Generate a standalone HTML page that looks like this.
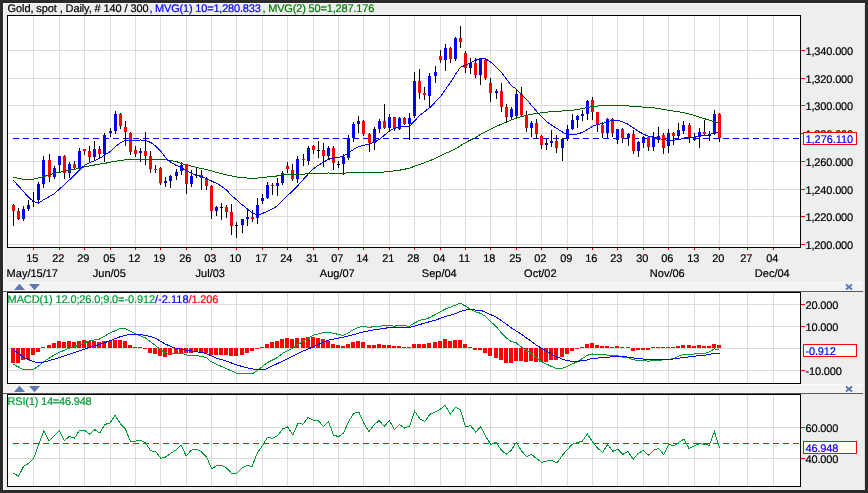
<!DOCTYPE html><html><head><meta charset="utf-8"><title>Gold chart</title><style>html,body{margin:0;padding:0;background:#2b2b2b}svg{display:block;will-change:transform;font-family:"Liberation Sans",sans-serif;font-size:11px}text{stroke-width:0.2px;text-rendering:geometricPrecision}</style></head><body><svg width="868" height="493" viewBox="0 0 868 493" >
<rect x="0" y="0" width="868" height="493" fill="#2b2b2b"/>
<rect x="3" y="3" width="862" height="487" fill="#eeeeee"/>
<rect x="3" y="3" width="862" height="1" fill="#fbfbfb"/><rect x="3" y="3" width="1" height="487" fill="#fbfbfb"/>
<rect x="864" y="4" width="1" height="486" fill="#dcdcdc"/>
<rect x="3" y="282" width="860" height="9" fill="#f3f3f3"/>
<rect x="3" y="282" width="860" height="1" fill="#fafafa"/>
<rect x="3" y="291" width="860" height="1" fill="#5a5a5a"/>
<rect x="3" y="384" width="860" height="9" fill="#f3f3f3"/>
<rect x="3" y="384" width="860" height="1" fill="#fafafa"/>
<rect x="3" y="393" width="860" height="1" fill="#5a5a5a"/>
<rect x="7.5" y="15.5" width="793" height="232" fill="#fff" stroke="#000" stroke-width="1" shape-rendering="crispEdges"/>
<rect x="7.5" y="292.5" width="793" height="91" fill="#fff" stroke="#000" stroke-width="1" shape-rendering="crispEdges"/>
<rect x="7.5" y="394.5" width="793" height="92" fill="#fff" stroke="#000" stroke-width="1" shape-rendering="crispEdges"/>
<path d="M33.5 16V247M59.5 16V247M84.5 16V247M110.5 16V247M135.5 16V247M160.5 16V247M186.5 16V247M211.5 16V247M236.5 16V247M262.5 16V247M287.5 16V247M313.5 16V247M338.5 16V247M363.5 16V247M389.5 16V247M414.5 16V247M440.5 16V247M465.5 16V247M490.5 16V247M516.5 16V247M541.5 16V247M567.5 16V247M592.5 16V247M617.5 16V247M643.5 16V247M668.5 16V247M694.5 16V247M719.5 16V247M747.5 16V247M773.5 16V247M33.5 293V383M59.5 293V383M84.5 293V383M110.5 293V383M135.5 293V383M160.5 293V383M186.5 293V383M211.5 293V383M236.5 293V383M262.5 293V383M287.5 293V383M313.5 293V383M338.5 293V383M363.5 293V383M389.5 293V383M414.5 293V383M440.5 293V383M465.5 293V383M490.5 293V383M516.5 293V383M541.5 293V383M567.5 293V383M592.5 293V383M617.5 293V383M643.5 293V383M668.5 293V383M694.5 293V383M719.5 293V383M747.5 293V383M773.5 293V383M33.5 395V486M59.5 395V486M84.5 395V486M110.5 395V486M135.5 395V486M160.5 395V486M186.5 395V486M211.5 395V486M236.5 395V486M262.5 395V486M287.5 395V486M313.5 395V486M338.5 395V486M363.5 395V486M389.5 395V486M414.5 395V486M440.5 395V486M465.5 395V486M490.5 395V486M516.5 395V486M541.5 395V486M567.5 395V486M592.5 395V486M617.5 395V486M643.5 395V486M668.5 395V486M694.5 395V486M719.5 395V486M747.5 395V486M773.5 395V486M8 50.5H800M8 78.5H800M8 105.5H800M8 133.5H800M8 161.5H800M8 189.5H800M8 216.5H800M8 244.5H800M8 304.5H800M8 326.5H800M8 348.5H800M8 370.5H800M8 427.5H800M8 458.5H800" stroke="#dcdcdc" stroke-width="1" fill="none" shape-rendering="crispEdges"/>
<path d="M13 138.5H800" stroke="#0000ff" stroke-width="1" stroke-dasharray="6 4" shape-rendering="crispEdges"/>
<path d="M13.5 204V226M18.5 208V220M23.5 206V221M28.5 200V211M33.5 192V207M32 201.5H35M38.5 182V203M43.5 156V188M49.5 154V182M54.5 166V179M59.5 156V173M64.5 155V179M69.5 162V178M74.5 161V170M79.5 148V169M84.5 149V155M89.5 146V162M94.5 141V161M99.5 146V159M104.5 133V162M110.5 128V137M115.5 111V134M120.5 113V129M125.5 121V146M130.5 132V155M135.5 146V157M140.5 148V162M145.5 132V165M150.5 151V173M155.5 165V173M160.5 167V185M165.5 177V187M170.5 175V188M176.5 169V180M181.5 162V175M186.5 164V194M191.5 170V187M196.5 168V178M195 175.5H198M201.5 170V190M206.5 177V190M211.5 185V219M216.5 206V216M221.5 203V220M220 207.5H223M226.5 205V218M231.5 204V235M236.5 222V238M235 225.5H238M242.5 219V233M247.5 209V226M252.5 210V222M257.5 198V224M262.5 194V204M267.5 182V199M272.5 183V195M277.5 178V196M282.5 171V185M287.5 162V173M292.5 164V181M297.5 156V183M303.5 154V166M308.5 146V165M313.5 145V154M318.5 141V158M317 150.5H320M323.5 143V167M328.5 146V159M333.5 146V170M338.5 161V168M337 164.5H340M343.5 154V175M348.5 135V160M353.5 122V142M358.5 116V133M363.5 120V136M369.5 133V152M374.5 127V150M379.5 119V133M384.5 104V129M389.5 114V131M394.5 117V131M399.5 117V130M404.5 117V125M409.5 113V140M414.5 72V118M419.5 69V99M424.5 87V100M429.5 73V108M435.5 66V83M440.5 50V63M445.5 44V71M450.5 47V63M455.5 37V61M460.5 26V48M465.5 51V73M470.5 58V74M475.5 58V78M480.5 58V85M485.5 58V80M490.5 78V102M496.5 89V99M501.5 83V112M506.5 104V123M511.5 107V119M516.5 89V118M521.5 87V116M526.5 111V132M531.5 121V137M536.5 119V139M541.5 135V149M546.5 139V150M551.5 130V147M556.5 135V153M562.5 138V161M567.5 125V141M572.5 114V130M577.5 115V128M582.5 110V121M587.5 100V120M592.5 97V120M597.5 112V132M602.5 122V138M607.5 118V138M612.5 118V137M617.5 129V144M622.5 128V143M628.5 133V146M633.5 130V154M638.5 141V157M643.5 136V148M648.5 136V151M653.5 132V151M658.5 127V143M663.5 133V154M668.5 129V153M673.5 132V145M678.5 123V138M683.5 121V134M689.5 123V143M694.5 133V141M699.5 128V148M704.5 120V136M709.5 131V141M708 135.5H711M714.5 110V135M719.5 113V142" stroke="#000" stroke-width="1" fill="none" shape-rendering="crispEdges"/>
<path d="M12 205h3v6h-3zM17 211h3v8h-3zM48 160h3v17h-3zM63 156h3v17h-3zM73 164h3v4h-3zM83 149h3v2h-3zM88 151h3v6h-3zM98 149h3v5h-3zM119 114h3v12h-3zM124 127h3v5h-3zM129 133h3v19h-3zM134 150h3v4h-3zM144 151h3v5h-3zM149 156h3v13h-3zM154 169h3v1h-3zM159 168h3v15h-3zM185 164h3v20h-3zM200 175h3v3h-3zM205 178h3v8h-3zM210 186h3v25h-3zM225 207h3v5h-3zM230 212h3v14h-3zM251 217h3v2h-3zM271 185h3v1h-3zM286 166h3v3h-3zM291 170h3v9h-3zM302 159h3v1h-3zM312 146h3v4h-3zM322 150h3v6h-3zM332 148h3v15h-3zM362 121h3v13h-3zM368 134h3v9h-3zM383 121h3v7h-3zM393 117h3v12h-3zM403 118h3v6h-3zM418 81h3v12h-3zM423 93h3v2h-3zM439 56h3v4h-3zM449 48h3v11h-3zM459 38h3v4h-3zM464 53h3v15h-3zM474 63h3v12h-3zM484 60h3v18h-3zM489 83h3v10h-3zM500 91h3v16h-3zM505 107h3v10h-3zM520 94h3v21h-3zM525 116h3v12h-3zM535 123h3v11h-3zM540 136h3v9h-3zM555 141h3v7h-3zM591 100h3v12h-3zM596 112h3v13h-3zM601 125h3v8h-3zM611 119h3v14h-3zM621 129h3v9h-3zM632 134h3v17h-3zM647 137h3v10h-3zM662 135h3v13h-3zM672 133h3v3h-3zM688 125h3v12h-3zM703 132h3v2h-3zM718 114h3v24h-3z" fill="#ff0000" shape-rendering="crispEdges"/>
<path d="M22 209h3v10h-3zM27 205h3v4h-3zM37 184h3v16h-3zM42 160h3v24h-3zM53 168h3v9h-3zM58 156h3v9h-3zM68 164h3v9h-3zM78 151h3v17h-3zM93 149h3v8h-3zM103 135h3v19h-3zM109 131h3v2h-3zM114 114h3v17h-3zM139 151h3v2h-3zM164 181h3v2h-3zM169 176h3v5h-3zM175 172h3v4h-3zM180 165h3v6h-3zM190 176h3v8h-3zM215 207h3v4h-3zM241 219h3v6h-3zM246 217h3v2h-3zM256 205h3v13h-3zM261 198h3v3h-3zM266 185h3v13h-3zM276 183h3v3h-3zM281 173h3v10h-3zM296 159h3v20h-3zM307 148h3v13h-3zM327 148h3v8h-3zM342 157h3v7h-3zM347 138h3v20h-3zM352 124h3v14h-3zM357 121h3v3h-3zM373 129h3v14h-3zM378 121h3v8h-3zM388 117h3v11h-3zM398 118h3v11h-3zM408 118h3v6h-3zM413 81h3v35h-3zM428 76h3v20h-3zM434 72h3v4h-3zM444 48h3v12h-3zM454 38h3v21h-3zM469 63h3v5h-3zM479 59h3v16h-3zM495 91h3v2h-3zM510 109h3v8h-3zM515 94h3v22h-3zM530 123h3v5h-3zM545 143h3v2h-3zM550 141h3v2h-3zM561 139h3v9h-3zM566 129h3v10h-3zM571 120h3v9h-3zM576 116h3v4h-3zM581 114h3v2h-3zM586 101h3v13h-3zM606 119h3v14h-3zM616 129h3v11h-3zM627 134h3v4h-3zM637 142h3v9h-3zM642 137h3v6h-3zM652 137h3v10h-3zM657 136h3v4h-3zM667 133h3v13h-3zM677 130h3v6h-3zM682 125h3v6h-3zM693 137h3v3h-3zM698 132h3v5h-3zM713 114h3v20h-3z" fill="#0000ff" shape-rendering="crispEdges"/>
<polyline points="13.1,177.2 23.3,179.2 33.4,179.2 43.5,176.6 53.7,173.5 63.8,171.5 74.0,169.5 84.3,167.0 94.5,165.0 104.5,163.3 104.6,163.4 114.9,161.3 125.0,159.8 135.2,159.4 145.5,159.2 155.6,159.2 165.8,159.8 176.1,161.5 185.0,164.7 196.4,167.3 206.7,169.7 216.8,172.4 227.0,175.0 237.1,177.0 247.5,178.1 257.6,178.1 262.4,177.5 267.4,177.0 272.5,176.4 277.6,175.9 282.7,174.7 287.8,174.3 292.8,174.3 297.9,174.3 303.0,174.1 308.1,173.8 313.2,173.6 318.2,173.4 323.3,173.2 328.4,173.0 333.5,173.2 338.6,173.2 343.6,173.1 348.7,172.9 353.8,172.5 358.9,172.3 364.0,172.4 369.0,172.6 374.1,172.6 379.2,172.4 384.3,172.0 389.3,171.4 394.4,170.9 399.5,170.2 404.6,169.2 409.7,168.1 414.7,166.2 419.8,164.4 424.9,162.6 430.0,160.6 435.1,158.5 440.1,156.1 445.2,153.5 450.3,151.4 455.4,148.9 460.5,145.7 465.5,142.6 470.6,140.0 475.7,137.5 480.8,134.2 485.8,131.5 490.9,129.0 496.0,126.6 501.1,124.3 506.2,122.2 511.2,120.0 516.3,118.1 521.4,116.5 526.5,115.4 531.6,114.3 536.6,113.4 541.7,112.8 546.8,112.1 551.9,111.7 557.0,111.3 562.0,111.0 567.1,110.7 572.2,110.2 577.3,109.5 582.3,108.7 587.4,107.4 592.5,106.6 597.6,106.0 602.7,105.9 607.7,105.8 612.8,105.9 617.9,105.9 623.0,105.9 628.1,105.9 633.1,106.4 638.2,106.7 643.3,107.1 648.4,107.6 653.5,107.8 658.5,108.6 663.6,109.4 668.7,110.4 673.8,111.2 678.8,111.8 683.9,112.7 689.0,113.9 694.1,115.4 699.2,117.1 704.2,118.6 709.3,120.2 714.4,121.7 719.5,123.1" fill="none" stroke="#006400" stroke-width="1" shape-rendering="crispEdges"/>
<polyline points="13.1,180.0 28.3,196.9 33.4,201.5 38.5,203.0 43.5,199.9 48.6,196.9 53.7,194.2 59.2,189.2 64.3,185.0 69.4,179.9 74.4,175.2 79.5,169.8 84.6,165.2 89.7,162.6 94.8,160.8 99.8,158.3 104.9,154.8 110.0,151.8 115.1,146.7 120.2,143.1 125.2,140.3 130.3,140.9 135.4,140.8 140.5,140.0 145.6,140.6 150.6,142.4 155.7,146.0 160.8,151.3 165.9,158.0 170.9,162.2 176.0,165.4 181.1,167.3 186.2,170.8 191.3,173.2 196.3,175.2 201.4,176.5 206.5,178.7 211.6,181.1 216.7,183.4 221.7,186.3 226.8,190.3 231.9,195.9 237.0,200.2 242.1,204.7 247.1,208.8 252.2,212.8 257.3,214.9 262.4,213.6 267.4,211.2 272.5,208.9 277.6,205.7 282.7,200.6 287.8,195.3 292.8,190.9 297.9,185.5 303.0,179.8 308.1,174.2 313.2,168.9 318.2,165.3 323.3,162.3 328.4,159.3 333.5,158.0 338.6,157.4 343.6,155.8 348.7,152.9 353.8,149.2 358.9,146.6 364.0,145.2 369.0,144.3 374.1,142.3 379.2,139.5 384.3,135.3 389.3,131.1 394.4,128.4 399.5,126.7 404.6,126.5 409.7,126.1 414.7,120.8 419.8,115.3 424.9,111.4 430.0,107.3 435.1,102.2 440.1,97.1 445.2,89.8 450.3,82.8 455.4,74.5 460.5,67.1 465.5,65.3 470.6,62.5 475.7,60.3 480.8,58.6 485.8,59.0 490.9,62.2 496.0,66.8 501.1,72.0 506.2,78.6 511.2,85.6 516.3,89.1 521.4,94.1 526.5,99.3 531.6,105.4 536.6,111.3 541.7,116.9 546.8,121.8 551.9,125.3 557.0,128.5 562.0,131.7 567.1,134.6 572.2,134.9 577.3,133.9 582.3,132.5 587.4,129.5 592.5,126.3 597.6,124.4 602.7,123.6 607.7,121.6 612.8,120.5 617.9,120.3 623.0,122.0 628.1,124.3 633.1,127.7 638.2,131.3 643.3,134.0 648.4,136.3 653.5,137.1 658.5,138.3 663.6,139.7 668.7,140.3 673.8,140.1 678.8,139.7 683.9,137.9 689.0,137.2 694.1,137.0 699.2,136.1 704.2,135.5 709.3,134.9 714.4,132.4 719.5,131.8" fill="none" stroke="#0000ff" stroke-width="1" shape-rendering="crispEdges"/>
<path d="M11 348h4v15h-4zM16 348h4v15h-4zM21 348h4v12h-4zM26 348h4v11h-4zM31 348h4v7h-4zM36 348h4v4h-4zM41 347h4v1h-4zM47 345h4v3h-4zM52 343h4v5h-4zM57 341h4v7h-4zM62 342h4v6h-4zM67 341h4v7h-4zM72 342h4v6h-4zM77 341h4v7h-4zM82 340h4v8h-4zM87 341h4v7h-4zM92 341h4v7h-4zM97 342h4v6h-4zM102 341h4v7h-4zM108 341h4v7h-4zM113 340h4v8h-4zM118 340h4v8h-4zM123 341h4v7h-4zM128 345h4v3h-4zM133 347h4v1h-4zM138 347h4v1h-4zM143 348h4v1h-4zM148 348h4v5h-4zM153 348h4v6h-4zM158 348h4v8h-4zM163 348h4v9h-4zM168 348h4v7h-4zM174 348h4v6h-4zM179 348h4v5h-4zM184 348h4v5h-4zM189 348h4v5h-4zM194 348h4v4h-4zM199 348h4v4h-4zM204 348h4v5h-4zM209 348h4v7h-4zM214 348h4v7h-4zM219 348h4v7h-4zM224 348h4v7h-4zM229 348h4v8h-4zM234 348h4v8h-4zM240 348h4v7h-4zM245 348h4v5h-4zM250 348h4v3h-4zM255 348h4v1h-4zM260 347h4v1h-4zM265 344h4v4h-4zM270 342h4v6h-4zM275 341h4v7h-4zM280 339h4v9h-4zM285 338h4v10h-4zM290 339h4v9h-4zM295 338h4v10h-4zM301 338h4v10h-4zM306 337h4v11h-4zM311 337h4v11h-4zM316 338h4v10h-4zM321 339h4v9h-4zM326 341h4v7h-4zM331 344h4v4h-4zM336 345h4v3h-4zM341 346h4v2h-4zM346 344h4v4h-4zM351 342h4v6h-4zM356 341h4v7h-4zM361 342h4v6h-4zM367 345h4v3h-4zM372 345h4v3h-4zM377 344h4v4h-4zM382 345h4v3h-4zM387 345h4v3h-4zM392 346h4v2h-4zM397 346h4v2h-4zM402 347h4v1h-4zM407 347h4v1h-4zM412 344h4v4h-4zM417 344h4v4h-4zM422 344h4v4h-4zM427 343h4v5h-4zM433 342h4v6h-4zM438 341h4v7h-4zM443 339h4v9h-4zM448 341h4v7h-4zM453 340h4v8h-4zM458 340h4v8h-4zM463 344h4v4h-4zM468 347h4v1h-4zM473 348h4v2h-4zM478 348h4v2h-4zM483 348h4v5h-4zM488 348h4v8h-4zM494 348h4v10h-4zM499 348h4v12h-4zM504 348h4v15h-4zM509 348h4v15h-4zM514 348h4v13h-4zM519 348h4v13h-4zM524 348h4v14h-4zM529 348h4v13h-4zM534 348h4v14h-4zM539 348h4v14h-4zM544 348h4v14h-4zM549 348h4v12h-4zM554 348h4v12h-4zM560 348h4v9h-4zM565 348h4v6h-4zM570 348h4v3h-4zM575 348h4v1h-4zM580 347h4v1h-4zM585 344h4v4h-4zM590 343h4v5h-4zM595 345h4v3h-4zM600 346h4v2h-4zM605 346h4v2h-4zM610 347h4v1h-4zM615 346h4v2h-4zM620 347h4v1h-4zM626 347h4v1h-4zM631 348h4v3h-4zM636 348h4v2h-4zM641 348h4v2h-4zM646 348h4v2h-4zM651 347h4v1h-4zM656 347h4v1h-4zM661 347h4v1h-4zM666 347h4v1h-4zM671 347h4v1h-4zM676 346h4v2h-4zM681 345h4v3h-4zM687 345h4v3h-4zM692 346h4v2h-4zM697 345h4v3h-4zM702 346h4v2h-4zM707 346h4v2h-4zM712 344h4v4h-4zM717 345h4v3h-4z" fill="#ff0000" shape-rendering="crispEdges"/>
<polyline points="13.1,364.1 23.4,369.7 32.6,369.7 38.2,366.4 43.5,361.8 53.7,355.3 58.8,352.5 69.0,348.3 79.1,345.2 89.2,340.9 99.4,339.1 109.5,333.2 119.8,328.6 124.8,328.6 135.0,333.5 145.1,337.8 155.2,345.2 160.5,349.8 165.5,352.9 175.6,353.8 182.6,353.5 185.8,354.9 201.1,356.2 206.2,357.5 211.2,361.8 221.4,366.4 231.7,371.0 236.7,373.4 252.7,373.4 256.9,371.0 262.1,366.7 267.3,362.7 277.4,357.5 282.4,353.5 292.5,348.3 302.8,341.5 312.9,335.4 323.1,332.8 328.2,332.3 333.2,333.2 338.4,334.5 343.3,335.4 348.5,332.8 353.7,329.5 358.6,327.3 363.8,326.4 368.8,327.3 378.9,326.2 389.2,325.4 394.2,326.2 399.4,325.4 409.5,326.2 414.5,323.0 419.7,320.3 424.8,319.4 429.8,317.5 435.0,314.7 445.1,309.2 455.2,305.2 460.3,303.3 465.3,305.9 470.5,309.2 475.6,312.0 480.6,313.3 485.8,316.6 490.8,321.8 495.9,326.2 500.9,332.3 506.1,337.8 511.0,341.5 516.2,342.8 521.4,347.0 526.3,350.1 531.5,353.8 536.5,357.5 541.6,361.8 546.6,364.1 551.8,366.7 556.9,368.6 561.9,368.6 567.1,366.4 572.1,364.1 577.2,361.8 582.2,358.6 587.4,355.3 592.5,354.0 597.5,354.4 602.6,354.9 605.0,354.9 617.9,355.7 622.9,357.1 628.0,357.5 633.0,359.9 643.3,360.5 648.3,361.2 653.5,360.5 663.6,359.9 668.6,359.4 673.8,358.6 678.9,356.2 683.9,354.4 694.0,354.0 699.2,353.5 704.2,353.5 709.3,352.0 714.3,348.8 719.5,350.1" fill="none" stroke="#009a34" stroke-width="1" shape-rendering="crispEdges"/>
<polyline points="13.1,349.4 23.4,357.1 33.4,361.8 38.4,362.7 43.5,362.1 53.7,359.4 69.0,354.4 89.2,347.6 104.5,342.8 119.8,336.9 130.0,334.1 140.1,334.5 150.3,336.5 155.0,337.8 165.5,344.2 175.6,348.3 185.8,350.1 201.1,352.5 206.2,353.5 216.4,358.1 226.5,361.2 236.7,364.9 246.8,367.8 256.9,369.7 265.6,369.1 277.4,363.6 292.5,356.2 302.8,351.2 312.9,347.0 323.1,342.4 328.2,340.2 343.3,337.2 353.7,334.7 363.8,331.7 373.9,329.9 389.2,327.6 399.4,327.1 411.0,327.1 414.5,326.2 424.8,323.0 435.0,320.3 445.1,316.6 455.0,313.8 460.3,311.4 465.3,310.1 470.5,309.6 475.6,310.1 480.6,310.1 485.8,312.5 490.8,314.7 495.9,317.0 500.9,320.3 506.1,324.0 511.0,327.6 516.2,331.0 521.4,334.1 526.3,337.8 531.5,341.5 536.5,345.2 541.6,348.3 546.6,351.2 551.8,354.4 556.9,356.8 561.9,359.0 567.1,360.8 572.1,361.2 577.2,361.2 582.2,360.8 587.4,359.9 592.5,358.1 597.5,358.1 602.6,357.1 605.0,357.5 617.9,356.2 628.0,357.1 638.2,358.6 648.3,359.4 658.5,359.4 673.8,359.0 683.9,357.5 694.0,356.2 704.2,355.3 714.3,353.5 719.5,353.5" fill="none" stroke="#0000ff" stroke-width="1" shape-rendering="crispEdges"/>
<path d="M13 443.5H800" stroke="#ff0000" stroke-width="1" stroke-dasharray="6 4" shape-rendering="crispEdges"/>
<polyline points="13.5,473.2 18.6,476.2 23.7,466.1 28.7,463.4 33.8,458.0 38.9,443.8 44.0,430.6 49.1,441.1 54.1,436.2 59.2,430.6 64.3,440.7 69.4,436.2 74.4,438.3 79.5,430.2 84.6,430.2 89.7,434.2 94.8,429.6 99.8,433.0 104.9,424.5 110.0,422.9 115.1,415.4 120.2,423.5 125.2,428.5 130.3,441.1 135.4,441.1 140.5,440.1 145.6,442.7 150.6,450.9 155.7,451.3 160.8,458.4 165.9,456.9 170.9,453.3 176.0,449.8 181.1,445.2 186.2,455.9 191.3,450.2 196.3,449.2 201.4,451.9 206.5,456.9 211.6,468.7 216.7,465.7 221.7,465.5 226.8,468.1 231.9,473.8 237.0,473.2 242.1,468.1 247.1,465.5 252.2,466.3 257.3,452.9 262.4,445.8 267.4,437.3 272.5,438.3 277.6,435.6 282.7,428.9 287.8,426.9 292.8,435.0 297.9,423.5 303.0,424.1 308.1,417.4 313.2,420.0 318.2,420.4 323.3,426.5 328.4,421.4 333.5,435.0 338.6,436.7 343.6,433.0 348.7,421.4 353.8,413.3 358.9,412.3 364.0,423.5 369.0,431.6 374.1,424.9 379.2,420.4 384.3,426.5 389.3,420.4 394.4,429.6 399.5,424.5 404.6,428.1 409.7,426.1 414.7,411.3 419.8,418.8 424.9,421.4 430.0,414.3 435.1,411.9 440.1,409.3 445.2,405.2 450.3,414.3 455.4,407.2 460.5,409.9 465.5,426.9 470.6,425.5 475.7,432.2 480.8,426.5 485.8,436.7 490.9,444.4 496.0,442.3 501.1,449.8 506.2,454.3 511.2,450.4 516.3,442.3 521.4,450.9 526.5,456.5 531.6,454.5 536.6,458.6 541.7,462.4 546.8,461.0 551.9,460.4 557.0,463.0 562.0,455.9 567.1,449.8 572.2,444.4 577.3,442.7 582.3,441.1 587.4,434.0 592.5,441.7 597.6,448.2 602.7,452.3 607.7,444.4 612.8,451.3 617.9,449.2 623.0,454.3 628.1,451.3 633.1,459.4 638.2,453.3 643.3,450.4 648.4,455.3 653.5,450.4 658.5,448.2 663.6,454.5 668.7,444.4 673.8,445.8 678.8,442.3 683.9,439.1 689.0,448.4 694.1,445.8 699.2,443.8 704.2,444.2 709.3,445.2 714.4,431.6 719.5,447.8" fill="none" stroke="#009a34" stroke-width="1" shape-rendering="crispEdges"/>
<path d="M33.5 248V250M59.5 248V250M84.5 248V250M110.5 248V250M135.5 248V250M160.5 248V250M186.5 248V250M211.5 248V250M236.5 248V250M262.5 248V250M287.5 248V250M313.5 248V250M338.5 248V250M363.5 248V250M389.5 248V250M414.5 248V250M440.5 248V250M465.5 248V250M490.5 248V250M516.5 248V250M541.5 248V250M567.5 248V250M592.5 248V250M617.5 248V250M643.5 248V250M668.5 248V250M694.5 248V250M719.5 248V250M747.5 248V250M773.5 248V250M801 50.5H805M801 78.5H805M801 105.5H805M801 133.5H805M801 161.5H805M801 189.5H805M801 216.5H805M801 244.5H805M801 304.5H805M801 326.5H805M801 370.5H805M801 427.5H805M801 458.5H805" stroke="#ff0000" stroke-width="1" fill="none" shape-rendering="crispEdges"/>
<text x="7.6" y="12" textLength="141.0" lengthAdjust="spacing" fill="#000" stroke="#000">Gold, spot , Daily, # 140 / 300</text>
<text x="149.4" y="12" textLength="111.4" lengthAdjust="spacing" fill="#0000ff" stroke="#0000ff">, MVG(1) 10=1,280.833</text>
<text x="262.4" y="12" textLength="112.0" lengthAdjust="spacing" fill="#007800" stroke="#007800">, MVG(2) 50=1,287.176</text>
<text x="32.3" y="262" text-anchor="middle" stroke="#000">15</text>
<text x="32.3" y="277" text-anchor="middle" stroke="#000">May/15/17</text>
<text x="58.3" y="262" text-anchor="middle" stroke="#000">22</text>
<text x="83.3" y="262" text-anchor="middle" stroke="#000">29</text>
<text x="109.3" y="262" text-anchor="middle" stroke="#000">05</text>
<text x="109.3" y="277" text-anchor="middle" stroke="#000">Jun/05</text>
<text x="134.3" y="262" text-anchor="middle" stroke="#000">12</text>
<text x="159.3" y="262" text-anchor="middle" stroke="#000">19</text>
<text x="185.3" y="262" text-anchor="middle" stroke="#000">26</text>
<text x="210.3" y="262" text-anchor="middle" stroke="#000">03</text>
<text x="210.3" y="277" text-anchor="middle" stroke="#000">Jul/03</text>
<text x="235.3" y="262" text-anchor="middle" stroke="#000">10</text>
<text x="261.3" y="262" text-anchor="middle" stroke="#000">17</text>
<text x="286.3" y="262" text-anchor="middle" stroke="#000">24</text>
<text x="312.3" y="262" text-anchor="middle" stroke="#000">31</text>
<text x="337.3" y="262" text-anchor="middle" stroke="#000">07</text>
<text x="337.3" y="277" text-anchor="middle" stroke="#000">Aug/07</text>
<text x="362.3" y="262" text-anchor="middle" stroke="#000">14</text>
<text x="388.3" y="262" text-anchor="middle" stroke="#000">21</text>
<text x="413.3" y="262" text-anchor="middle" stroke="#000">28</text>
<text x="439.3" y="262" text-anchor="middle" stroke="#000">04</text>
<text x="439.3" y="277" text-anchor="middle" stroke="#000">Sep/04</text>
<text x="464.3" y="262" text-anchor="middle" stroke="#000">11</text>
<text x="489.3" y="262" text-anchor="middle" stroke="#000">18</text>
<text x="515.3" y="262" text-anchor="middle" stroke="#000">25</text>
<text x="540.3" y="262" text-anchor="middle" stroke="#000">02</text>
<text x="540.3" y="277" text-anchor="middle" stroke="#000">Oct/02</text>
<text x="566.3" y="262" text-anchor="middle" stroke="#000">09</text>
<text x="591.3" y="262" text-anchor="middle" stroke="#000">16</text>
<text x="616.3" y="262" text-anchor="middle" stroke="#000">23</text>
<text x="642.3" y="262" text-anchor="middle" stroke="#000">30</text>
<text x="667.3" y="262" text-anchor="middle" stroke="#000">06</text>
<text x="667.3" y="277" text-anchor="middle" stroke="#000">Nov/06</text>
<text x="693.3" y="262" text-anchor="middle" stroke="#000">13</text>
<text x="718.3" y="262" text-anchor="middle" stroke="#000">20</text>
<text x="746.3" y="262" text-anchor="middle" stroke="#000">27</text>
<text x="772.3" y="262" text-anchor="middle" stroke="#000">04</text>
<text x="772.3" y="277" text-anchor="middle" stroke="#000">Dec/04</text>
<text x="805.5" y="55.0" stroke="#000" textLength="47.7">1,340.000</text>
<text x="805.5" y="82.7" stroke="#000" textLength="47.7">1,320.000</text>
<text x="805.5" y="110.4" stroke="#000" textLength="47.7">1,300.000</text>
<text x="805.5" y="138.1" stroke="#000" textLength="47.7">1,280.000</text>
<text x="805.5" y="165.8" stroke="#000" textLength="47.7">1,260.000</text>
<text x="805.5" y="193.5" stroke="#000" textLength="47.7">1,240.000</text>
<text x="805.5" y="221.2" stroke="#000" textLength="47.7">1,220.000</text>
<text x="805.5" y="248.9" stroke="#000" textLength="47.7">1,200.000</text>
<text x="805.5" y="309.1" stroke="#000" textLength="32.8">20.000</text>
<text x="805.5" y="330.9" stroke="#000" textLength="32.8">10.000</text>
<text x="805.5" y="374.7" stroke="#000" textLength="36.4">-10.000</text>
<text x="805.5" y="432.0" stroke="#000" textLength="32.8">60.000</text>
<text x="805.5" y="463.0" stroke="#000" textLength="32.8">40.000</text>
<rect x="803.5" y="132.5" width="53" height="12" fill="#fff" stroke="#ff0000" stroke-width="1" shape-rendering="crispEdges"/>
<text x="805.5" y="142.5" fill="#0000ff" stroke="#0000ff" textLength="47.7">1,276.110</text>
<rect x="803.5" y="344.5" width="53" height="12" fill="#fff" stroke="#ff0000" stroke-width="1" shape-rendering="crispEdges"/>
<text x="805.5" y="354.5" fill="#0000ff" stroke="#0000ff" textLength="30.4">-0.912</text>
<rect x="803.5" y="441.5" width="53" height="12" fill="#fff" stroke="#ff0000" stroke-width="1" shape-rendering="crispEdges"/>
<text x="805.5" y="451.5" fill="#0000ff" stroke="#0000ff" textLength="32.8">46.948</text>
<text x="7.6" y="303" textLength="147.4" lengthAdjust="spacing" fill="#009a34" stroke="#009a34">MACD(1) 12.0;26.0;9.0=-0.912</text>
<text x="155" y="303" textLength="33.5" lengthAdjust="spacing" fill="#0000ff" stroke="#0000ff">/-2.118</text>
<text x="188.6" y="303" textLength="29.8" lengthAdjust="spacing" fill="#ff0000" stroke="#ff0000">/1.206</text>
<text x="7.6" y="405" textLength="84.1" lengthAdjust="spacing" fill="#009a34" stroke="#009a34">RSI(1) 14=46.948</text>
<path d="M14 290L19.5 283.7L25 290z M29 284L40 284L34.5 290.2z" fill="#6078ab"/>
<path d="M846 284.5L852 289.5M852 284.5L846 289.5" stroke="#5b78b6" stroke-width="1.9" fill="none"/>
<path d="M14 392L19.5 385.7L25 392z M29 386L40 386L34.5 392.2z" fill="#6078ab"/>
<path d="M846 386.5L852 391.5M852 386.5L846 391.5" stroke="#5b78b6" stroke-width="1.9" fill="none"/>
</svg></body></html>
